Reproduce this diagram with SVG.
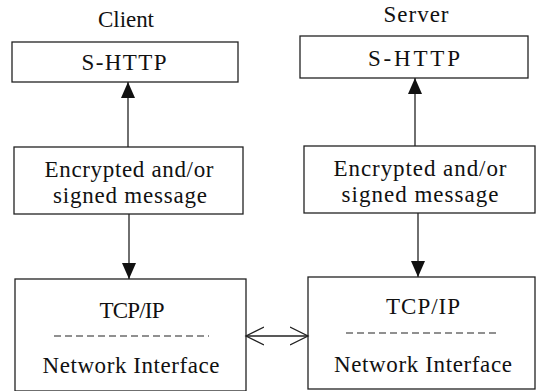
<svg xmlns="http://www.w3.org/2000/svg" width="536" height="391" viewBox="0 0 536 391">
<style>
.box{fill:#fff;stroke:#222;stroke-width:1.3}
.t{font-family:'Liberation Serif','DejaVu Serif',serif;font-size:23px;fill:#111;text-anchor:middle}
.ln{stroke:#222;stroke-width:1.3;fill:none}
.dash{stroke:#222;stroke-width:1.2;stroke-dasharray:7 4}
</style>
<defs>
<marker id="fa" markerWidth="16" markerHeight="14" refX="16" refY="7" orient="auto" markerUnits="userSpaceOnUse">
<path d="M0,0 L16,7 L0,14 Z" fill="#111"/>
</marker>
<marker id="oa" markerWidth="20" markerHeight="20" refX="18" refY="10" orient="auto-start-reverse" markerUnits="userSpaceOnUse">
<path d="M0,1 L18,10 L0,19" fill="none" stroke="#222" stroke-width="1.3"/>
</marker>
</defs>
<rect width="536" height="391" fill="#fff"/>
<text class="t" x="126" y="27" textLength="56" lengthAdjust="spacing">Client</text>
<text class="t" x="416" y="22" textLength="65" lengthAdjust="spacing">Server</text>
<g id="c-shttp">
<rect class="box" x="12" y="42" width="226" height="40"/>
<text class="t" x="124" y="70" textLength="85" lengthAdjust="spacing">S-HTTP</text>
</g>
<g id="c-msg">
<rect class="box" x="14" y="147" width="229" height="67"/>
<text class="t" x="129" y="177" textLength="169" lengthAdjust="spacing">Encrypted and/or</text>
<text class="t" x="130" y="203" textLength="154" lengthAdjust="spacing">signed message</text>
</g>
<g id="c-tcp">
<rect class="box" x="15" y="279" width="231" height="112"/>
<text class="t" x="132" y="318" textLength="65" lengthAdjust="spacing">TCP/IP</text>
<line class="dash" x1="54" y1="336" x2="209" y2="336"/>
<text class="t" x="131" y="373" textLength="177" lengthAdjust="spacing">Network Interface</text>
</g>
<g id="s-shttp">
<rect class="box" x="300" y="36" width="228" height="42"/>
<text class="t" x="414" y="66" textLength="92" lengthAdjust="spacing">S-HTTP</text>
</g>
<g id="s-msg">
<rect class="box" x="304" y="146" width="231" height="67"/>
<text class="t" x="420" y="176" textLength="173" lengthAdjust="spacing">Encrypted and/or</text>
<text class="t" x="420" y="202" textLength="157" lengthAdjust="spacing">signed message</text>
</g>
<g id="s-tcp">
<rect class="box" x="308" y="277" width="227" height="112"/>
<text class="t" x="423" y="314" textLength="74" lengthAdjust="spacing">TCP/IP</text>
<line class="dash" x1="346" y1="333" x2="500" y2="333"/>
<text class="t" x="423" y="372" textLength="178" lengthAdjust="spacing">Network Interface</text>
</g>
<g id="connectors">
<line class="ln" x1="128" y1="147" x2="128" y2="82" marker-end="url(#fa)"/>
<line class="ln" x1="129" y1="214" x2="129" y2="279" marker-end="url(#fa)"/>
<line class="ln" x1="415" y1="146" x2="415" y2="78" marker-end="url(#fa)"/>
<line class="ln" x1="418" y1="213" x2="418" y2="277" marker-end="url(#fa)"/>
<line class="ln" x1="246" y1="336" x2="308" y2="336" marker-start="url(#oa)" marker-end="url(#oa)"/>
</g>
</svg>
